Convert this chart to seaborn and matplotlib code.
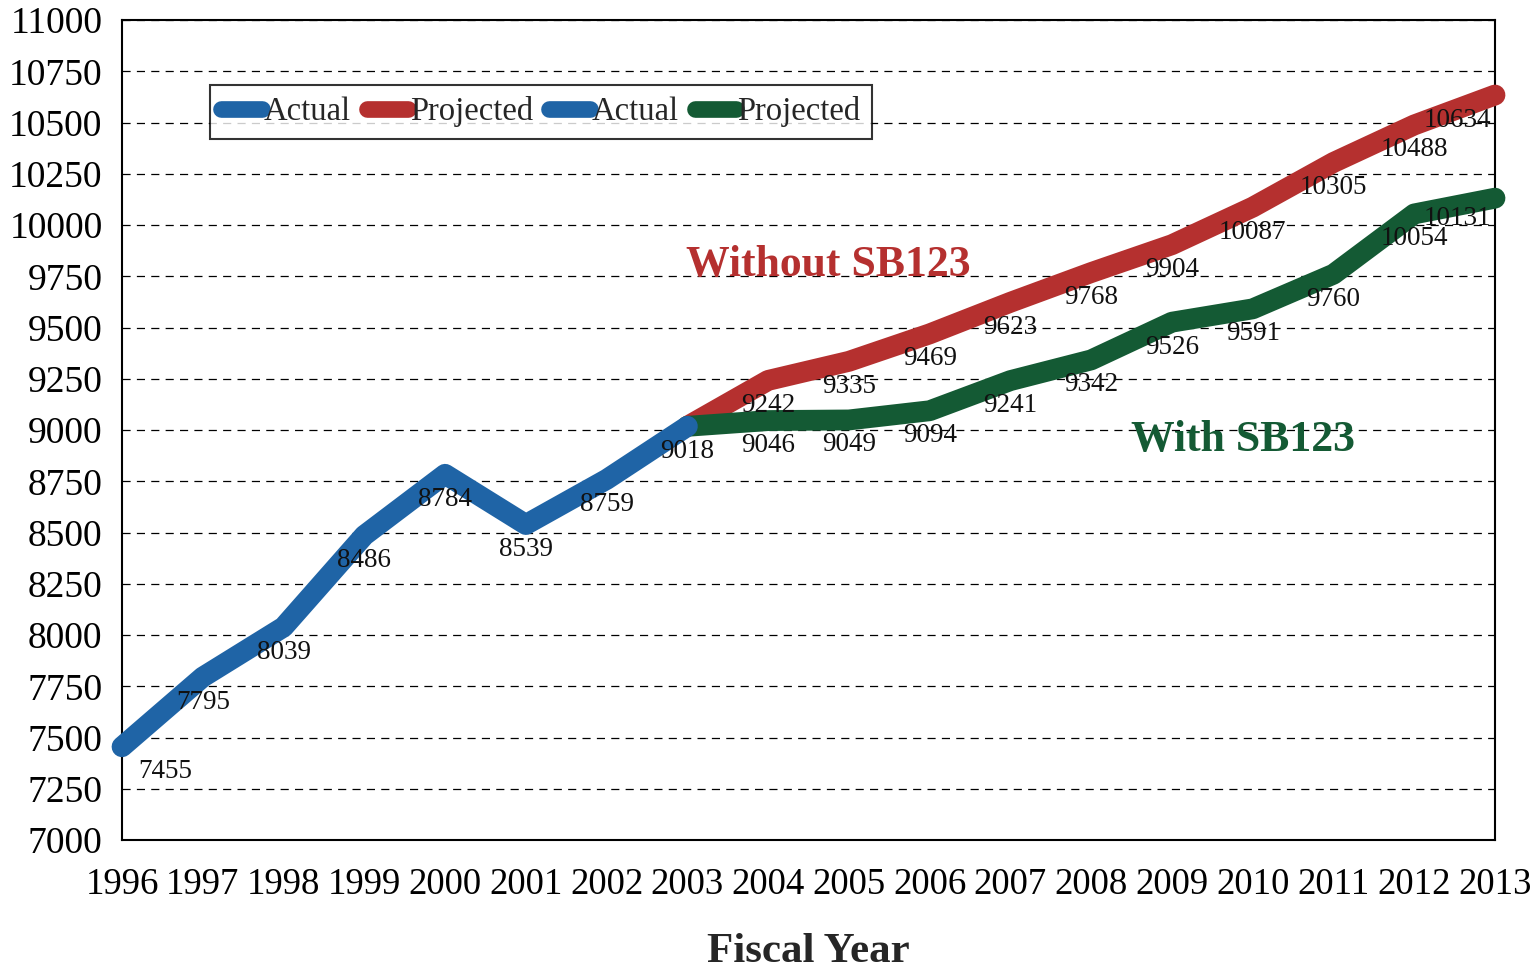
import matplotlib
matplotlib.use("Agg")
import matplotlib.pyplot as plt
import seaborn as sns

# data
years_actual = [1996, 1997, 1998, 1999, 2000, 2001, 2002, 2003]
actual = [7455, 7795, 8039, 8486, 8784, 8539, 8759, 9018]

years_proj = [2003, 2004, 2005, 2006, 2007, 2008, 2009, 2010, 2011, 2012, 2013]
without_sb = [9018, 9242, 9335, 9469, 9623, 9768, 9904, 10087, 10305, 10488, 10634]
with_sb = [9018, 9046, 9049, 9094, 9241, 9342, 9526, 9591, 9760, 10054, 10131]

year_ticks = list(range(1996, 2014))
y_ticks = list(range(7000, 11001, 250))

blue = "#1f64a6"
red = "#b5302f"
green = "#145a34"

sns.set_theme(style="white")
plt.rcParams["font.family"] = ["Liberation Serif", "DejaVu Serif"]

fig, ax = plt.subplots(figsize=(15.39, 9.71), dpi=100)
fig.subplots_adjust(left=0.0793, right=0.9714, top=0.9794, bottom=0.1349)

lw = 15
kw = dict(linewidth=lw, solid_capstyle="round", solid_joinstyle="round",
          clip_on=False, ax=ax)
sns.lineplot(x=years_proj, y=without_sb, color=red, label="Projected", zorder=3, **kw)
sns.lineplot(x=years_proj, y=with_sb, color=green, label="Projected", zorder=3, **kw)
sns.lineplot(x=years_actual, y=actual, color=blue, label="Actual", zorder=4, **kw)

# data labels below each point
def put_labels(xs, ys, last_dy=-18):
    for x, y in zip(xs, ys):
        dx, dy = 0, -18
        if x == year_ticks[0]:
            dx = 31
        elif x == year_ticks[-1]:
            dx, dy = -27, last_dy
        ax.annotate(str(y), (x, y), xytext=(dx, dy), textcoords="offset points",
                    ha="center", va="center", fontsize=19.5, color="#111111", zorder=5)

put_labels(years_actual, actual)
put_labels(years_proj[1:], without_sb[1:])
put_labels(years_proj[1:], with_sb[1:], last_dy=-15)

ax.text(2004.74, 9805, "Without SB123", color=red, fontsize=31.5, fontweight="bold",
        ha="center", va="center")
ax.text(2009.88, 8951, "With SB123", color=green, fontsize=31.5, fontweight="bold",
        ha="center", va="center")

ax.set_xlim(1996, 2013)
ax.set_ylim(7000, 11000)
ax.set_xticks(year_ticks)
ax.set_yticks(y_ticks)
ax.tick_params(axis="y", length=0, labelsize=27, pad=14, colors="black")
ax.tick_params(axis="x", length=0, labelsize=26.5, pad=20, colors="black")
ax.grid(axis="y", color="black", linestyle=(0, (6.5, 5)), linewidth=0.9)
ax.set_axisbelow(True)
for s in ax.spines.values():
    s.set_color("black")
    s.set_linewidth(1.5)
ax.set_xlabel("Fiscal Year", fontsize=31, fontweight="bold", labelpad=22)
ax.set_ylabel("")

# legend: Actual / Projected / Actual / Projected
h, l = ax.get_legend_handles_labels()
handles = [h[2], h[0], h[2], h[1]]
labels = ["Actual", "Projected", "Actual", "Projected"]
leg = ax.legend(handles, labels, ncol=4, loc="upper left", bbox_to_anchor=(0.064, 0.921),
                fontsize=23.5, frameon=True, fancybox=False, edgecolor="black",
                handlelength=1.25, handletextpad=0.05, columnspacing=0.5,
                borderpad=0.35, borderaxespad=0)
leg.get_frame().set_linewidth(1.5)
for line in leg.get_lines():
    line.set_linewidth(12)
    line.set_solid_capstyle("round")

fig.savefig("out.png", dpi=100, facecolor="white")
